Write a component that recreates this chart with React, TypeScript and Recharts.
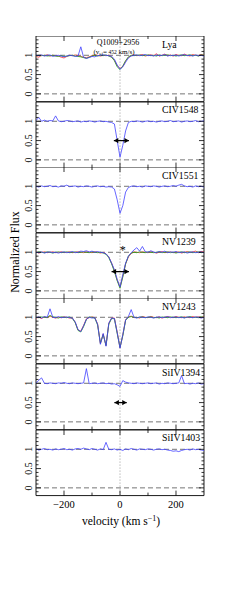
import React from 'react';
import { LineChart, Line, XAxis, YAxis, ReferenceLine, ReferenceDot, ReferenceArea } from 'recharts';

// velocity grid (km/s)
const VELOCITY = [
  -300, -290, -280, -270, -260, -250, -240, -230, -220, -210,
  -200, -190, -180, -170, -160, -150, -140, -130, -120, -110,
  -100, -90, -80, -70, -60, -50, -40, -30, -20, -10,
  0, 10, 20, 30, 40, 50, 60, 70, 80, 90,
  100, 110, 120, 130, 140, 150, 160, 170, 180, 190,
  200, 210, 220, 230, 240, 250, 260, 270, 280, 290,
  300,
];

const LYA_BLUE = [
  1.0, 0.99, 1.01, 0.98, 1.0, 1.01, 0.97, 0.99, 1.0, 0.98,
  0.96, 0.98, 1.0, 0.99, 0.97, 0.98, 1.22, 0.95, 0.92, 0.94,
  0.97, 0.96, 0.99, 1.0, 1.01, 1.0, 0.99, 0.97, 0.9, 0.75,
  0.64, 0.7, 0.82, 0.93, 0.98, 1.0, 1.01, 0.99, 1.0, 1.02,
  0.99, 1.0, 0.98, 1.01, 0.99, 1.0, 1.02, 0.98, 1.0, 0.99,
  1.01, 0.98, 1.0, 1.02, 0.99, 1.0, 0.98, 1.01, 0.99, 1.0,
  0.98,
];
const LYA_GREEN = [
  0.98, 1.0, 0.99, 1.0, 0.98, 0.99, 1.0, 0.98, 0.97, 0.99,
  0.97, 0.98, 0.99, 1.0, 0.98, 0.97, 0.96, 0.94, 0.92, 0.95,
  0.98, 1.0, 0.98, 1.0, 0.99, 1.01, 0.98, 0.95, 0.86, 0.7,
  0.63, 0.72, 0.86, 0.96, 1.0, 0.99, 1.0, 1.01, 0.99, 1.0,
  1.01, 0.99, 1.0, 0.98, 1.01, 0.99, 1.0, 1.01, 0.99, 1.0,
  0.98, 1.0, 1.01, 0.99, 1.0, 1.01, 0.99, 1.0, 0.98, 1.01,
  1.0,
];
const LYA_RED = [
  0.97, 0.95, 1.0, 0.99, 1.01, 0.98, 1.0, 0.99, 0.98, 0.95,
  0.93, 0.97, 1.0, 0.99, 1.01, 0.99, 0.97, 0.95, 0.94, 0.96,
  0.99, 1.01, 1.0, 0.98, 1.0, 0.99, 1.0, 0.96, 0.87, 0.73,
  0.66, 0.71, 0.85, 0.95, 0.99, 1.01, 0.99, 1.0, 1.02, 0.98,
  1.0, 1.01, 0.99, 1.04, 0.98, 1.0, 1.03, 0.99, 1.01, 0.98,
  1.02, 1.0, 0.99, 1.03, 1.0, 0.98, 1.02, 1.0, 0.99, 1.02,
  1.0,
];
const CIV1548_BLUE = [
  1.02, 1.1, 1.0, 1.03, 1.0, 1.02, 1.01, 1.14, 1.01, 0.99,
  1.0, 1.02, 1.01, 0.99, 1.0, 1.01, 0.98, 1.0, 0.99, 1.01,
  1.0, 0.98, 1.0, 1.01, 0.99, 1.0, 0.98, 0.97, 0.93, 0.5,
  0.07, 0.38, 0.75, 0.97, 1.0, 0.99, 1.01, 1.0, 0.98, 1.0,
  1.01, 0.99, 1.0, 0.98, 1.0, 1.01, 0.99, 1.0, 1.02, 0.99,
  1.0, 1.01, 0.98, 1.0, 1.01, 0.99, 1.0, 1.02, 0.99, 1.0,
  1.01,
];
const CIV1551_BLUE = [
  1.0, 0.98, 1.01, 0.99, 1.0, 1.02, 0.99, 1.0, 0.98, 1.01,
  1.0, 1.03, 0.99, 1.0, 1.01, 0.98, 1.0, 0.99, 1.01, 1.0,
  0.98, 1.0, 1.01, 0.99, 1.0, 0.98, 0.99, 0.98, 0.93, 0.65,
  0.3, 0.5, 0.85, 0.97, 1.0, 1.01, 0.99, 1.0, 0.98, 1.01,
  1.0, 0.99, 1.01, 1.0, 0.98, 1.0, 1.01, 0.99, 1.0, 1.02,
  1.0, 1.03, 1.05, 1.01, 0.99, 1.0, 0.98, 1.01, 0.99, 1.0,
  0.98,
];
const NV1239_BLUE = [
  1.0, 0.99, 1.01, 0.98, 1.0, 1.01, 0.99, 1.0, 0.98, 1.0,
  1.01, 0.99, 1.0, 1.02, 0.99, 1.0, 1.03, 1.02, 1.04, 1.01,
  1.03, 1.0, 1.02, 1.0, 0.99, 0.96, 0.88, 0.72, 0.55, 0.3,
  0.1, 0.42, 0.72, 0.9, 0.99, 1.06, 1.12, 1.03, 1.15, 1.02,
  1.0, 1.04, 1.01, 0.99, 1.02, 1.0, 1.03, 0.99, 1.01, 1.0,
  1.02, 0.99, 1.0, 1.01, 0.98, 1.0, 1.01, 0.99, 1.0, 1.01,
  0.99,
];
const NV1239_GREEN = [
  0.99, 1.01, 1.0, 0.99, 1.01, 1.0, 0.98, 1.0, 1.01, 0.99,
  1.0, 1.01, 0.99, 1.0, 1.01, 0.99, 1.0, 1.01, 1.0, 0.99,
  1.01, 1.0, 0.99, 1.0, 0.98, 0.95, 0.86, 0.7, 0.5, 0.26,
  0.07, 0.36, 0.7, 0.9, 0.98, 1.0, 0.99, 1.01, 1.0, 0.99,
  1.01, 1.0, 0.99, 1.0, 1.01, 0.99, 1.0, 1.01, 0.99, 1.0,
  0.98, 1.0, 1.01, 0.99, 1.0, 1.01, 0.99, 1.0, 1.01, 0.99,
  1.0,
];
const NV1239_RED = [
  1.01, 0.98, 1.0, 1.01, 0.99, 1.0, 1.01, 0.99, 1.0, 1.01,
  0.99, 1.0, 1.01, 0.99, 1.0, 1.01, 1.0, 0.99, 1.01, 1.0,
  0.99, 1.01, 1.0, 0.98, 1.0, 0.96, 0.88, 0.72, 0.52, 0.28,
  0.09, 0.38, 0.7, 0.88, 0.97, 1.01, 1.0, 0.99, 1.01, 1.0,
  0.99, 1.01, 1.0, 0.98, 1.0, 1.02, 0.99, 1.0, 1.01, 0.99,
  1.0, 1.01, 0.98, 1.0, 1.02, 0.99, 1.01, 1.03, 0.99, 1.02,
  1.01,
];
const NV1243_BLUE = [
  0.99, 1.01, 0.98, 1.02, 1.0, 1.22, 1.0, 0.99, 1.02, 0.99,
  1.0, 1.01, 0.99, 0.98, 0.88, 0.68, 0.63, 0.78, 0.95, 1.0,
  0.98, 0.99, 0.82, 0.3, 0.58, 0.25, 0.85, 0.98, 0.97, 0.6,
  0.2, 0.55, 0.93, 1.02, 1.2, 1.0, 0.98, 1.01, 1.0, 0.99,
  1.01, 1.0, 0.98, 1.0, 1.01, 0.99, 1.0, 1.02, 0.99, 1.0,
  1.01, 0.99, 1.0, 0.98, 1.01, 1.0, 0.99, 1.01, 1.0, 0.98,
  1.0,
];
const NV1243_GREEN = [
  1.0, 0.99, 1.01, 1.0, 0.99, 1.05, 1.01, 1.0, 0.98, 1.01,
  1.0, 0.99, 1.01, 0.97, 0.86, 0.66, 0.62, 0.76, 0.94, 1.01,
  1.0, 0.98, 0.8, 0.33, 0.55, 0.27, 0.82, 0.97, 0.96, 0.58,
  0.22, 0.52, 0.92, 1.0, 1.02, 1.0, 0.99, 1.0, 1.01, 0.99,
  1.0, 1.01, 0.99, 1.0, 0.98, 1.01, 1.0, 0.99, 1.01, 1.0,
  0.99, 1.0, 1.01, 0.99, 1.0, 1.02, 0.99, 1.0, 0.99, 1.01,
  1.0,
];
const NV1243_RED = [
  0.98, 1.0, 0.97, 1.01, 0.99, 1.03, 1.0, 0.98, 1.0, 0.99,
  1.01, 1.0, 0.98, 0.98, 0.87, 0.67, 0.64, 0.79, 0.96, 0.99,
  1.01, 0.99, 0.83, 0.32, 0.57, 0.27, 0.84, 0.98, 0.98, 0.62,
  0.21, 0.54, 0.94, 1.01, 1.03, 0.99, 1.0, 0.98, 1.02, 1.0,
  0.99, 1.02, 1.0, 0.99, 1.01, 0.98, 1.0, 1.02, 1.0, 0.99,
  1.02, 1.0, 0.99, 1.01, 1.0, 0.99, 1.02, 1.0, 1.01, 0.99,
  1.02,
];
const SIIV1394_BLUE = [
  1.0, 1.08, 1.14, 1.0, 0.99, 1.01, 1.0, 0.99, 1.01, 1.0,
  1.02, 1.0, 0.99, 1.01, 1.0, 0.99, 1.0, 1.01, 1.38, 0.99,
  1.0, 1.01, 0.99, 1.0, 1.01, 0.99, 1.0, 0.98, 0.99, 0.96,
  0.92, 1.07, 1.03, 1.01, 1.0, 0.99, 1.01, 1.0, 0.99, 1.0,
  1.01, 0.99, 1.0, 1.01, 0.98, 1.0, 0.99, 1.01, 1.0, 0.99,
  1.0, 1.01, 1.2, 0.99, 1.0, 0.98, 1.0, 0.99, 1.01, 0.98,
  0.99,
];
const SIIV1403_BLUE = [
  1.01, 0.98, 1.0, 1.02, 0.99, 1.0, 0.98, 1.01, 0.99, 1.0,
  1.02, 0.99, 1.0, 0.98, 1.01, 1.02, 1.0, 1.03, 1.01, 0.99,
  1.02, 1.0, 0.98, 1.01, 0.99, 1.18, 1.0, 0.99, 1.01, 0.98,
  1.0, 0.97, 1.01, 0.99, 1.02, 1.0, 0.98, 1.01, 1.0, 0.99,
  1.01, 1.0, 0.98, 1.0, 1.01, 0.99, 1.0, 0.98, 0.97, 0.95,
  0.96, 0.94, 0.97, 0.99, 1.0, 0.98, 1.01, 0.99, 1.0, 0.98,
  0.97,
];

// arrows (velocity range at flux 0.5)
const ARROW_CIV1548 = [-22, 32];
const ARROW_NV1239 = [-30, 32];
const ARROW_SIIV1394 = [-20, 24];
const ARROW_LEVEL = 0.5;
const STAR_NV1239 = { v: 10, f: 1.1 };

const PANEL_LABELS = ['Lya', 'CIV1548', 'CIV1551', 'NV1239', 'NV1243', 'SiIV1394', 'SiIV1403'];
const X_DOMAIN = [-300, 300];
const Y_DOMAIN = [-0.2, 1.5];
const X_TICKS = [-200, -100, 0, 100, 200];
const X_LABELED = [-200, 0, 200];
const Y_TICKS = [-0.1, 0, 0.1, 0.2, 0.3, 0.4, 0.5, 0.6, 0.7, 0.8, 0.9, 1, 1.1, 1.2, 1.3, 1.4];
const Y_LABELED = [0, 0.5, 1];

const BLUE = '#4040ff';
const GREEN = '#1aa31a';
const RED = '#ff3030';
const SERIF = "'Liberation Serif', 'Times New Roman', serif";

type Series = { flux: number[]; color: string };
type Panel = { label: string; series: Series[]; arrow: number[] | null; star: { v: number; f: number } | null };

const PANELS: Panel[] = [
  { label: PANEL_LABELS[0], series: [{ flux: LYA_RED, color: RED }, { flux: LYA_GREEN, color: GREEN }, { flux: LYA_BLUE, color: BLUE }], arrow: null, star: null },
  { label: PANEL_LABELS[1], series: [{ flux: CIV1548_BLUE, color: BLUE }], arrow: ARROW_CIV1548, star: null },
  { label: PANEL_LABELS[2], series: [{ flux: CIV1551_BLUE, color: BLUE }], arrow: null, star: null },
  { label: PANEL_LABELS[3], series: [{ flux: NV1239_RED, color: RED }, { flux: NV1239_GREEN, color: GREEN }, { flux: NV1239_BLUE, color: BLUE }], arrow: ARROW_NV1239, star: STAR_NV1239 },
  { label: PANEL_LABELS[4], series: [{ flux: NV1243_RED, color: RED }, { flux: NV1243_GREEN, color: GREEN }, { flux: NV1243_BLUE, color: BLUE }], arrow: null, star: null },
  { label: PANEL_LABELS[5], series: [{ flux: SIIV1394_BLUE, color: BLUE }], arrow: ARROW_SIIV1394, star: null },
  { label: PANEL_LABELS[6], series: [{ flux: SIIV1403_BLUE, color: BLUE }], arrow: null, star: null },
];

const PANEL_TOP = 36;
const PANEL_H = 65.6;
const LAST_EXTRA = 40;
const AXIS_H = 0.01;

const fmt = (v: number) => (v < 0 ? '\u2212' + Math.abs(v) : String(v));

const makeXTick = (side: 'top' | 'bottom', showLabel: boolean) => (props: any) => {
  const { x, y, payload } = props;
  const v = payload.value;
  const len = X_LABELED.includes(v) ? 5 : 3;
  const dir = side === 'bottom' ? -1 : 1;
  return (
    <g>
      <line x1={x} x2={x} y1={y} y2={y + dir * len} stroke="#000" strokeWidth={0.8} />
      {showLabel && X_LABELED.includes(v) && (
        <text x={x} y={y + 12} textAnchor="middle" fontSize={10.5} fontFamily={SERIF} fill="#000">
          {fmt(v)}
        </text>
      )}
    </g>
  );
};

const makeYTick = (side: 'left' | 'right') => (props: any) => {
  const { x, y, payload } = props;
  const v = payload.value;
  const major = Y_LABELED.includes(v);
  const len = major ? 5 : 2.5;
  const dir = side === 'left' ? 1 : -1;
  return (
    <g>
      <line x1={x} x2={x + dir * len} y1={y} y2={y} stroke="#000" strokeWidth={0.8} />
      {side === 'left' && major && (
        <text
          x={x - 4}
          y={y}
          transform={`rotate(-90 ${x - 4} ${y})`}
          textAnchor="middle"
          fontSize={10}
          fontFamily={SERIF}
          fill="#000"
        >
          {v}
        </text>
      )}
    </g>
  );
};

const ArrowDot = (props: any) => {
  const { cx, cy, index } = props;
  if (cx == null || cy == null) return <g />;
  const d = index === 0 ? -1 : 1;
  return (
    <path
      key={`a${index}`}
      d={`M${cx},${cy} L${cx - d * 4.5},${cy - 2.6} L${cx - d * 4.5},${cy + 2.6} Z`}
      fill="#000"
      stroke="none"
    />
  );
};

const StarShape = (props: any) => {
  const { cx, cy } = props;
  return (
    <text x={cx} y={cy + 6} textAnchor="middle" fontSize={12} fontFamily={SERIF} fill="#000">
      *
    </text>
  );
};

const toData = (flux: number[]) => VELOCITY.map((v, i) => ({ v, f: flux[i] }));

export default function App() {
  return (
    <div style={{ position: 'absolute', left: 0, top: 0, width: 240, height: 598, background: '#fff' }}>
      {PANELS.map((p, i) => {
        const last = i === PANELS.length - 1;
        return (
          <div key={p.label} style={{ position: 'absolute', left: 0, top: PANEL_TOP + i * PANEL_H }}>
            <LineChart
              width={240}
              height={PANEL_H + (last ? LAST_EXTRA : 0)}
              margin={{ top: 0, right: 0, left: 0, bottom: last ? LAST_EXTRA : 0 }}
            >
              <XAxis
                xAxisId="b"
                dataKey="v"
                type="number"
                domain={X_DOMAIN}
                allowDataOverflow
                ticks={X_TICKS}
                interval={0}
                orientation="bottom"
                height={AXIS_H}
                tickSize={0}
                tickMargin={0}
                tickLine={false}
                axisLine={false}
                tick={makeXTick('bottom', last)}
              />
              <XAxis
                xAxisId="t"
                dataKey="v"
                type="number"
                domain={X_DOMAIN}
                allowDataOverflow
                ticks={X_TICKS}
                interval={0}
                orientation="top"
                height={AXIS_H}
                tickSize={0}
                tickMargin={0}
                tickLine={false}
                axisLine={false}
                tick={makeXTick('top', false)}
              />
              <YAxis
                yAxisId="l"
                type="number"
                domain={Y_DOMAIN}
                allowDataOverflow
                ticks={Y_TICKS}
                interval={0}
                orientation="left"
                width={36}
                tickSize={0}
                tickMargin={0}
                tickLine={false}
                axisLine={false}
                tick={makeYTick('left')}
              />
              <YAxis
                yAxisId="r"
                type="number"
                domain={Y_DOMAIN}
                allowDataOverflow
                ticks={Y_TICKS}
                interval={0}
                orientation="right"
                width={36}
                tickSize={0}
                tickMargin={0}
                tickLine={false}
                axisLine={false}
                tick={makeYTick('right')}
              />
              <ReferenceLine xAxisId="b" yAxisId="l" y={0} stroke="#666" strokeWidth={0.9} strokeDasharray="5 3" />
              <ReferenceLine xAxisId="b" yAxisId="l" y={1} stroke="#666" strokeWidth={0.9} strokeDasharray="5 3" />
              <ReferenceLine xAxisId="b" yAxisId="l" x={0} stroke="#999" strokeWidth={1} strokeDasharray="1 2" />
              {p.series.map((s, k) => (
                <Line
                  key={k}
                  xAxisId="b"
                  yAxisId="l"
                  data={toData(s.flux)}
                  dataKey="f"
                  type="linear"
                  stroke={s.color}
                  strokeWidth={0.8}
                  dot={false}
                  activeDot={false}
                  isAnimationActive={false}
                />
              ))}
              {p.arrow && (
                <Line
                  xAxisId="b"
                  yAxisId="l"
                  data={p.arrow.map((v) => ({ v, f: ARROW_LEVEL }))}
                  dataKey="f"
                  type="linear"
                  stroke="#000"
                  strokeWidth={1.2}
                  dot={ArrowDot}
                  activeDot={false}
                  isAnimationActive={false}
                />
              )}
              {p.star && (
                <ReferenceDot xAxisId="b" yAxisId="l" x={p.star.v} y={p.star.f} r={0} shape={StarShape} />
              )}
              <ReferenceArea
                xAxisId="b"
                yAxisId="l"
                x1={X_DOMAIN[0]}
                x2={X_DOMAIN[1]}
                y1={Y_DOMAIN[0]}
                y2={Y_DOMAIN[1]}
                fill="none"
                fillOpacity={0}
                stroke="#000"
                strokeWidth={0.9}
                ifOverflow="visible"
              />
            </LineChart>
          </div>
        );
      })}
      <svg style={{ position: 'absolute', left: 0, top: 0 }} width={240} height={598}>
        <g fontFamily={SERIF} fill="#000">
          {PANEL_LABELS.map((l, i) => (
            <text key={l} x={162} y={PANEL_TOP + i * PANEL_H + 11.8} fontSize={9.8}>
              {l}
            </text>
          ))}
          <text x={118} y={44.8} fontSize={8} textAnchor="middle">
            Q1009+2956
          </text>
          <text x={114} y={53.5} fontSize={7} textAnchor="middle">
            (v<tspan fontSize={5} dy={1.5}>ej</tspan>
            <tspan dy={-1.5}>= </tspan>
            <tspan fontSize={5.5}>452</tspan> km/s)
          </text>
          <text x={19} y={252} transform="rotate(-90 19 252)" fontSize={12} textAnchor="middle">
            Normalized Flux
          </text>
          <text x={121} y={524.5} fontSize={11.5} textAnchor="middle">
            velocity (km s<tspan fontSize={8} dy={-4}>{'\u2212'}1</tspan>
            <tspan dy={4}>)</tspan>
          </text>
        </g>
      </svg>
    </div>
  );
}
